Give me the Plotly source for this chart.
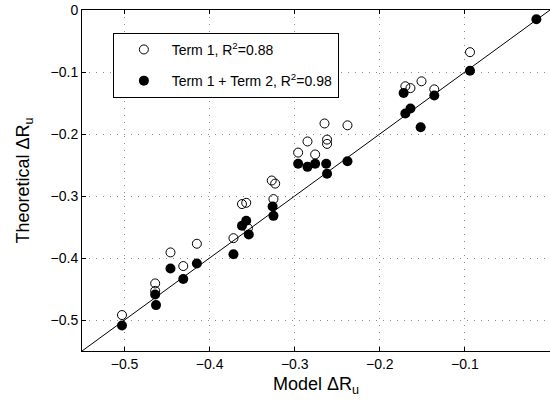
import plotly.graph_objects as go

# Term 1 (open circles)
t1_x = [-0.503, -0.464, -0.464, -0.446, -0.431, -0.415, -0.372, -0.362, -0.357, -0.355,
        -0.327, -0.323, -0.325, -0.296, -0.285, -0.276, -0.265, -0.262, -0.262, -0.238,
        -0.170, -0.164, -0.151, -0.136, -0.094]
t1_y = [-0.492, -0.441, -0.453, -0.391, -0.413, -0.377, -0.368, -0.313, -0.311, -0.352,
        -0.275, -0.280, -0.305, -0.230, -0.212, -0.233, -0.183, -0.209, -0.216, -0.186,
        -0.123, -0.126, -0.115, -0.128, -0.068]

# Term 1 + Term 2 (filled circles)
t12_x = [-0.503, -0.464, -0.463, -0.446, -0.431, -0.415, -0.372, -0.362, -0.357, -0.354,
         -0.326, -0.325, -0.296, -0.285, -0.276, -0.263, -0.262, -0.238, -0.172, -0.136,
         -0.164, -0.170, -0.152, -0.094, -0.016]
t12_y = [-0.509, -0.459, -0.476, -0.417, -0.434, -0.409, -0.394, -0.348, -0.340, -0.362,
         -0.317, -0.332, -0.248, -0.253, -0.248, -0.248, -0.264, -0.244, -0.134, -0.138,
         -0.159, -0.167, -0.189, -0.098, -0.015]

line_x = [-0.55, 0.0]
line_y = [-0.55, 0.0]
tick_vals = [-0.5, -0.4, -0.3, -0.2, -0.1, 0.0]
tick_text = ["−0.5", "−0.4", "−0.3", "−0.2", "−0.1", "0"]

FONT = "Liberation Sans, Arial, sans-serif"

fig = go.Figure()
fig.add_trace(go.Scatter(x=line_x, y=line_y, mode="lines",
                         line=dict(color="black", width=1), showlegend=False,
                         hoverinfo="skip"))
fig.add_trace(go.Scatter(x=t1_x, y=t1_y, mode="markers",
                         name="&nbsp;&nbsp;Term 1, R<sup>2</sup>=0.88",
                         legendgroup="a",
                         marker=dict(symbol="circle-open", size=9, color="black",
                                     line=dict(color="black", width=1))))
fig.add_trace(go.Scatter(x=t12_x, y=t12_y, mode="markers",
                         name="&nbsp;&nbsp;Term 1 + Term 2, R<sup>2</sup>=0.98",
                         legendgroup="b",
                         marker=dict(symbol="circle", size=10, color="black")))

axis_common = dict(
    tickvals=tick_vals, ticktext=tick_text,
    ticks="inside", ticklen=4, tickcolor="black",
    showgrid=True, gridcolor="#8a8a8a", griddash="1px,6px", gridwidth=1,
    zeroline=False,
    showline=True, linecolor="black", linewidth=1,
    tickfont=dict(size=14, color="black", family=FONT),
    range=[-0.55, 0.0],
)

fig.update_xaxes(**axis_common, mirror="allticks",
                 title=dict(text="Model ΔR<sub>u</sub>", font=dict(size=18, color="black", family=FONT), standoff=6))
fig.update_yaxes(**axis_common, mirror=False,
                 title=dict(text="Theoretical ΔR<sub>u</sub>", font=dict(size=18, color="black", family=FONT), standoff=16))

fig.update_layout(
    width=550, height=412,
    margin=dict(l=82, r=0, t=10, b=61),
    plot_bgcolor="white", paper_bgcolor="white",
    font=dict(family=FONT, color="black"),
    showlegend=True,
    legend=dict(x=0.066, y=0.933, xanchor="left", yanchor="top",
                bgcolor="white", bordercolor="black", borderwidth=1,
                font=dict(size=14, family=FONT, color="black"),
                tracegroupgap=10, indentation=10),
)

fig.write_html("out.html")
